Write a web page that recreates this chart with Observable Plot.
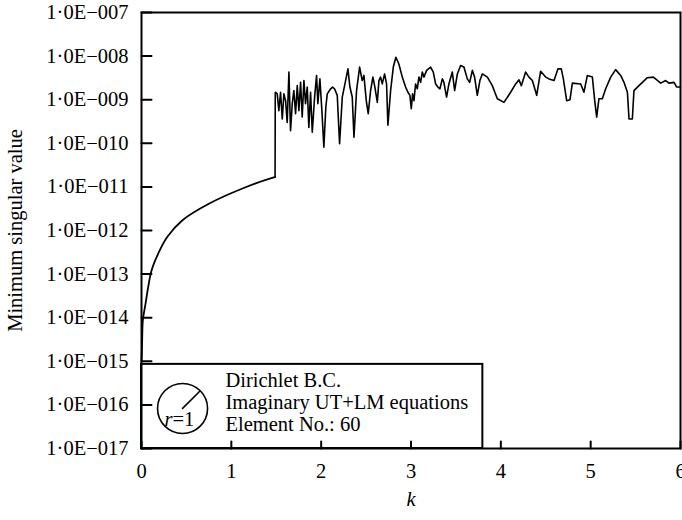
<!DOCTYPE html>
<html>
<head>
<meta charset="utf-8">
<script src="https://cdn.jsdelivr.net/npm/d3@7"></script>
<script src="https://cdn.jsdelivr.net/npm/@observablehq/plot@0.6"></script>
<style>
  html, body { margin: 0; padding: 0; background: #fff; }
  #chart { width: 682px; height: 520px; }
</style>
</head>
<body>
<div id="chart"></div>
<script>
// ---- data ----
const smoothK = [0, 0.006, 0.008, 0.015, 0.045, 0.074, 0.111, 0.186, 0.286, 0.453, 0.75, 1.158, 1.473, 1.487];
const smoothV = [1.05e-15, 2.3e-15, 3.5e-15, 8.7e-15, 2.1e-14, 5.0e-14, 1.2e-13, 2.95e-13, 7.1e-13, 1.7e-12, 4.1e-12, 9.8e-12, 1.66e-11, 1.68e-11];

const noisyK = [1.487, 1.489, 1.492, 1.511, 1.529, 1.548, 1.567, 1.585, 1.604, 1.622, 1.641, 1.659, 1.678, 1.696, 1.715, 1.734, 1.752, 1.771, 1.789, 1.808, 1.826, 1.845, 1.863, 1.882, 1.901, 1.927, 1.949, 1.963, 1.986, 2.008, 2.030, 2.052, 2.068, 2.105, 2.127, 2.149, 2.179, 2.205, 2.235, 2.272, 2.298, 2.320, 2.346, 2.365, 2.394, 2.428, 2.457, 2.476, 2.502, 2.524, 2.550, 2.576, 2.598, 2.625, 2.643, 2.661, 2.680, 2.706, 2.728, 2.743, 2.773, 2.803, 2.832, 2.865, 2.903, 2.940, 2.966, 2.988, 3.003, 3.018, 3.033, 3.051, 3.070, 3.088, 3.107, 3.126, 3.144, 3.174, 3.218, 3.248, 3.274, 3.300, 3.322, 3.349, 3.366, 3.396, 3.422, 3.460, 3.486, 3.516, 3.552, 3.589, 3.627, 3.653, 3.683, 3.708, 3.738, 3.767, 3.794, 3.850, 3.905, 3.961, 4.035, 4.109, 4.165, 4.202, 4.228, 4.276, 4.313, 4.351, 4.399, 4.443, 4.499, 4.536, 4.592, 4.636, 4.673, 4.696, 4.733, 4.770, 4.796, 4.889, 4.925, 4.963, 5.019, 5.045, 5.067, 5.092, 5.130, 5.167, 5.223, 5.278, 5.334, 5.371, 5.409, 5.427, 5.464, 5.482, 5.538, 5.576, 5.631, 5.698, 5.780, 5.835, 5.872, 5.928, 5.958, 6.000];
const noisyV = [1.68e-11, 1.46e-9, 1.48e-9, 1.36e-9, 5.6e-10, 1.48e-9, 3.6e-10, 1.36e-9, 9.5e-10, 3.0e-10, 4.3e-9, 1.95e-10, 8.1e-10, 1.62e-9, 4.8e-10, 2.1e-9, 5.6e-10, 2.5e-9, 4.0e-10, 2.75e-9, 8.1e-10, 1.95e-9, 2.3e-10, 1.48e-9, 1.8e-10, 1.15e-9, 3.6e-9, 8.1e-10, 3.0e-9, 5.6e-10, 8.1e-11, 6.8e-10, 1.36e-9, 1.78e-9, 1.95e-9, 1.78e-9, 1.26e-9, 9.8e-11, 1.15e-9, 2.75e-9, 5.1e-9, 1.95e-9, 1.15e-9, 1.38e-10, 1.62e-9, 5.6e-9, 2.75e-9, 3.6e-9, 9.5e-10, 4.8e-10, 1.62e-9, 3.3e-9, 1.95e-9, 8.7e-10, 2.75e-9, 3.3e-9, 2.3e-9, 3.9e-9, 2.3e-9, 2.6e-10, 1.62e-9, 5.6e-9, 9.4e-9, 6.6e-9, 3.3e-9, 1.95e-9, 1.48e-9, 1.26e-9, 6.2e-10, 1.36e-9, 9.5e-10, 2.3e-9, 1.78e-9, 3.3e-9, 2.5e-9, 4.3e-9, 3.3e-9, 4.7e-9, 5.6e-9, 4.3e-9, 2.3e-9, 1.95e-9, 1.78e-9, 3.0e-9, 2.5e-9, 1.15e-9, 2.3e-9, 4.3e-9, 1.62e-9, 3.9e-9, 6.1e-9, 5.6e-9, 3.0e-9, 2.5e-9, 4.7e-9, 3.3e-9, 1.26e-9, 2.75e-9, 3.9e-9, 3.3e-9, 2.1e-9, 1.05e-9, 8.7e-10, 1.48e-9, 2.3e-9, 2.85e-9, 2.1e-9, 4.3e-9, 3.3e-9, 2.75e-9, 1.26e-9, 4.5e-9, 3.3e-9, 3.0e-9, 2.75e-9, 5.1e-9, 5.1e-9, 3.0e-9, 9.5e-10, 1.0e-9, 2.4e-9, 2.3e-9, 1.48e-9, 3.6e-9, 3.3e-9, 9.5e-10, 4.0e-10, 1.05e-9, 1.05e-9, 1.78e-9, 3.3e-9, 4.9e-9, 3.6e-9, 2.5e-9, 1.48e-9, 3.6e-10, 3.6e-10, 1.62e-9, 2.1e-9, 2.5e-9, 3.2e-9, 3.3e-9, 2.4e-9, 2.75e-9, 2.4e-9, 2.5e-9, 1.95e-9, 1.95e-9];

const xTicks = [0, 1, 2, 3, 4, 5, 6];
const yTicks = [1e-17, 1e-16, 1e-15, 1e-14, 1e-13, 1e-12, 1e-11, 1e-10, 1e-9, 1e-8, 1e-7];
const xLabel = "k";
const yLabel = "Minimum singular value";
const legendLines = ["Dirichlet B.C.", "Imaginary UT+LM equations", "Element No.: 60"];
const legendRadiusLabel = ["r", "=1"];

// legend placement (data units)
const legendBox = {x1: 0, x2: 3.8, y1: 1e-17, y2: 8.5e-16};
const legendCircle = {x: 0.457, y: 8.3e-17};
const legendTextAt = {x: 0.935, y: 1.17e-16};
const radiusTextAt = {x: 0.345, y: 4.6e-17};

const smooth = smoothK.map((k, i) => ({k, v: smoothV[i]}));
const noisy = noisyK.map((k, i) => ({k, v: noisyV[i]}));

const FS = 20.5;
const fmt = d => "1\u00B70E\u22120" + String(-Math.round(Math.log10(d))).padStart(2, "0");
const lineShape = {draw(context, l) { context.moveTo(0, 0); context.lineTo(0, -l); }};

const chart = Plot.plot({
  width: 682,
  height: 520,
  marginLeft: 141,
  marginRight: 2,
  marginTop: 12,
  marginBottom: 72,
  style: {fontFamily: "'Liberation Serif', 'Times New Roman', serif", fontSize: FS + "px", color: "#000", background: "#fff"},
  x: {domain: [0, 6]},
  y: {type: "log", domain: [1e-17, 1e-7]},
  marks: [
    Plot.line(smooth, {x: "k", y: "v", stroke: "#000", strokeWidth: 1.8, curve: "catmull-rom"}),
    Plot.line(noisy, {x: "k", y: "v", stroke: "#000", strokeWidth: 1.6}),
    // legend box
    Plot.rect([legendBox], {x1: "x1", x2: "x2", y1: "y1", y2: "y2", fill: "#fff", stroke: "#000", strokeWidth: 2}),
    Plot.dot([legendCircle], {x: "x", y: "y", r: 25, stroke: "#000", strokeWidth: 1.6, fill: "none"}),
    Plot.vector([legendCircle], {x: "x", y: "y", length: 24, rotate: 45, anchor: "start", shape: lineShape, stroke: "#000", strokeWidth: 1.6}),
    Plot.text([legendRadiusLabel[0]], {x: radiusTextAt.x, y: radiusTextAt.y, text: d => d, textAnchor: "end", fontStyle: "italic", fontSize: FS}),
    Plot.text([legendRadiusLabel[1]], {x: radiusTextAt.x, y: radiusTextAt.y, text: d => d, textAnchor: "start", fontSize: FS}),
    Plot.text([legendLines.join("\n")], {x: legendTextAt.x, y: legendTextAt.y, text: d => d, textAnchor: "start", lineHeight: 1.06, fontSize: FS}),
    // inward ticks
    Plot.vector(yTicks, {x: 0, y: d => d, length: 10, rotate: 90, anchor: "start", shape: lineShape, stroke: "#000", strokeWidth: 2}),
    Plot.vector(xTicks, {x: d => d, y: 1e-17, length: 7, rotate: 0, anchor: "start", shape: lineShape, stroke: "#000", strokeWidth: 2}),
    Plot.axisY({ticks: yTicks, tickSize: 0, tickPadding: 13, tickFormat: fmt, label: null, fontSize: FS}),
    Plot.axisX({ticks: xTicks, tickSize: 0, tickPadding: 15, tickFormat: d => String(d), label: null, fontSize: FS}),
    Plot.text([yLabel], {frameAnchor: "left", dx: -126, rotate: -90, textAnchor: "middle", text: d => d, fontSize: FS}),
    Plot.text([xLabel], {frameAnchor: "bottom", dy: 57, text: d => d, fontStyle: "italic", fontSize: FS}),
    Plot.frame({stroke: "#000", strokeWidth: 2})
  ]
});
document.getElementById("chart").appendChild(chart);
</script>
</body>
</html>
